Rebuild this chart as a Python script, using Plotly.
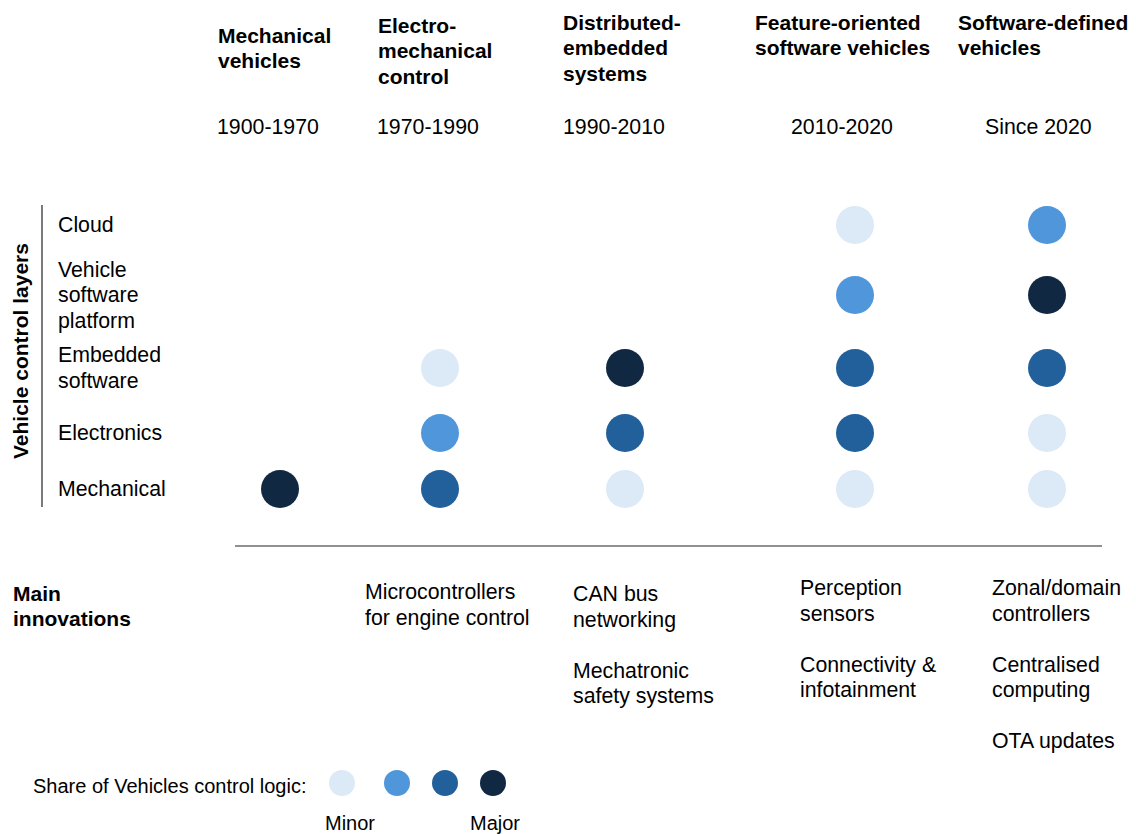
import plotly.graph_objects as go

# ---------------- data ----------------
eras = ["Mechanical<br>vehicles", "Electro-<br>mechanical<br>control",
        "Distributed-<br>embedded<br>systems", "Feature-oriented<br>software vehicles",
        "Software-defined<br>vehicles"]
periods = ["1900-1970", "1970-1990", "1990-2010", "2010-2020", "Since 2020"]
layers = ["Cloud", "Vehicle<br>software<br>platform", "Embedded<br>software",
          "Electronics", "Mechanical"]
# share level per layer (rows) and era (columns): 0 none, 1 minor ... 4 major
cloud_levels = [0, 0, 0, 1, 2]
platform_levels = [0, 0, 0, 2, 4]
embedded_levels = [0, 1, 4, 3, 3]
electronics_levels = [0, 2, 3, 3, 1]
mechanical_levels = [4, 3, 1, 1, 1]
level_rows = [cloud_levels, platform_levels, embedded_levels, electronics_levels, mechanical_levels]
innovations = [
    [],
    ["Microcontrollers<br>for engine control"],
    ["CAN bus<br>networking", "Mechatronic<br>safety systems"],
    ["Perception<br>sensors", "Connectivity &<br>infotainment"],
    ["Zonal/domain<br>controllers", "Centralised<br>computing", "OTA updates"],
]
legend_levels = [1, 2, 3, 4]
legend_labels = ["Minor", "Major"]

# ---------------- style / layout ----------------
W, H = 1136, 834
OFF = 8  # page body margin
PAD = 2  # annotation inner padding
level_colors = {1: "#DCE9F7", 2: "#4F96DB", 3: "#21609B", 4: "#112842"}
FONT = "Liberation Sans, Arial, sans-serif"
FS = 21.3
BFS = 21
LFS = 20
LH = 25.5
TXT = "#000000"

col_x = [280, 440, 625, 855, 1047]
row_y = [225, 295, 368, 433, 489]
header_x = [218, 378, 563, 755, 958]
header_y = [35, 25, 22, 22, 22]
period_x = [268, 428, 614, 842, 1038]
period_y = 127
row_label_x = 58
innov_x = [None, 365, 573, 800, 992]
innov_y = [None, 592, 594, 588, 588]
innov_step = 76.5

fig = go.Figure()
annotations = []


def add_lines(text, x, y_first, size=FS, bold=False, xanchor="left", color=TXT):
    xx = x - PAD if xanchor == "left" else x
    for i, line in enumerate(text.split("<br>")):
        t = f"<b>{line}</b>" if bold else line
        annotations.append(dict(x=xx, y=y_first + i * LH, text=t, showarrow=False,
                                xanchor=xanchor, yanchor="middle",
                                font=dict(family=FONT, size=size, color=color)))


# circles
for lvl in [1, 2, 3, 4]:
    xs, ys = [], []
    for r, row in enumerate(level_rows):
        for c, v in enumerate(row):
            if v == lvl:
                xs.append(col_x[c])
                ys.append(row_y[r])
    fig.add_trace(go.Scatter(x=xs, y=ys, mode="markers", hoverinfo="skip",
                             marker=dict(size=38, color=level_colors[lvl], line=dict(width=0))))

# legend circles
leg_x = [342, 397, 445, 493]
fig.add_trace(go.Scatter(x=leg_x, y=[783] * 4, mode="markers", hoverinfo="skip",
                         marker=dict(size=26, color=[level_colors[l] for l in legend_levels],
                                     line=dict(width=0))))

# headers
for c, t in enumerate(eras):
    add_lines(t, header_x[c], header_y[c], size=BFS, bold=True)
# periods
for c, p in enumerate(periods):
    add_lines(p, period_x[c], period_y, xanchor="center")
# row labels
for r, t in enumerate(layers):
    n = len(t.split("<br>"))
    add_lines(t, row_label_x, row_y[r] - (n - 1) * LH / 2)
# rotated axis label
annotations.append(dict(x=20, y=351, text="<b>Vehicle control layers</b>", textangle=-90,
                        showarrow=False, xanchor="center", yanchor="middle",
                        font=dict(family=FONT, size=BFS, color=TXT)))
# main innovations
add_lines("Main<br>innovations", 13, 593, size=BFS, bold=True)
for c, items in enumerate(innovations):
    for k, t in enumerate(items):
        add_lines(t, innov_x[c], innov_y[c] + k * innov_step)
# legend text
annotations.append(dict(x=33 - PAD, y=786, text="Share of Vehicles control logic:", showarrow=False,
                        xanchor="left", yanchor="middle", font=dict(family=FONT, size=LFS, color=TXT)))
annotations.append(dict(x=350, y=823, text=legend_labels[0], showarrow=False,
                        xanchor="center", yanchor="middle", font=dict(family=FONT, size=LFS, color=TXT)))
annotations.append(dict(x=495, y=823, text=legend_labels[1], showarrow=False,
                        xanchor="center", yanchor="middle", font=dict(family=FONT, size=LFS, color=TXT)))

shapes = [
    dict(type="line", x0=42, x1=42, y0=205, y1=507, line=dict(color="#222222", width=1.2)),
    dict(type="line", x0=235, x1=1102, y0=546, y1=546, line=dict(color="#222222", width=1.2)),
]

fig.update_layout(
    width=W - OFF, height=H - OFF, margin=dict(l=0, r=0, t=0, b=0),
    paper_bgcolor="white", plot_bgcolor="white", showlegend=False,
    xaxis=dict(range=[OFF, W], visible=False, fixedrange=True),
    yaxis=dict(range=[H, OFF], visible=False, fixedrange=True),
    annotations=annotations, shapes=shapes,
)
fig.write_html("out.html")
